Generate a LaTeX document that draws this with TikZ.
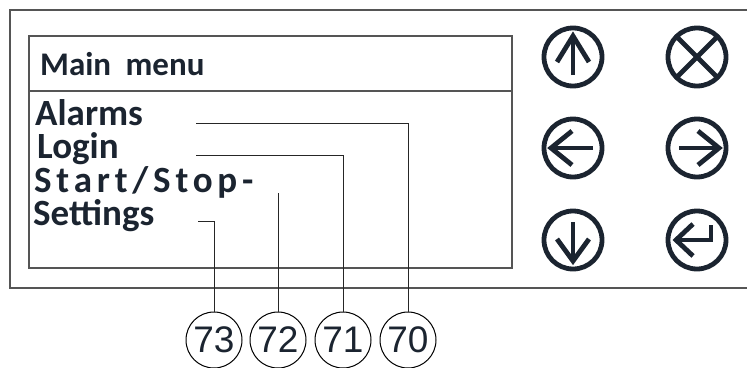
\documentclass[tikz,border=0pt]{standalone}
\usepackage{fontspec}
\setmainfont{Carlito}
\newfontfamily\numfont{Liberation Sans}
\definecolor{ink}{HTML}{1B2430}
\definecolor{framegray}{HTML}{555555}

\tikzset{
  menutext/.style={anchor=base west, inner sep=0pt, text=ink,
    text height=25pt, text depth=2pt,
    font=\fontsize{37}{37}\selectfont\bfseries},
  refnum/.style={circle, draw=black, line width=1pt, minimum size=56pt,
    inner sep=0pt, text=ink, font=\numfont\fontsize{37}{37}\selectfont},
  leader/.style={line width=1pt, draw=black!85},
  keyring/.style={circle, draw=ink, line width=4.8pt, minimum size=58pt, inner sep=0pt},
  keymark/.style={draw=ink, line width=4.8pt},
  panel/.style={draw=framegray, line width=2pt},
}

\begin{document}
\begin{tikzpicture}[x=1pt,y=-1pt]
  \useasboundingbox (0,0) rectangle (747,367);

  % Housing and display
  \draw[panel] (747,10) -- (10,10) -- (10,288) -- (747,288);
  \draw[panel] (29,36) rectangle (512,268);
  \draw[panel] (29,91) -- (512,91); % title bar

  % Display texts
  \node[menutext, font=\fontsize{33}{33}\selectfont\bfseries] (title) at (40,75) {Main\hspace{7pt} menu};
  \node[menutext] (alarms) at (35,125) {Alarms};
  \node[menutext] (login) at (37,158) {Login};
  \node[menutext] (start) at (34,192) {\addfontfeatures{LetterSpace=13}Start/Stop-};
  \node[menutext] (settings) at (33,225) {Settings};

  % Reference numbers
  \node[refnum] (n73) at (214,340) {73};
  \node[refnum] (n72) at (278,340) {72};
  \node[refnum] (n71) at (343,340) {71};
  \node[refnum] (n70) at (408,340) {70};

  % Leader lines
  \coordinate (a70) at (196,123);
  \coordinate (a71) at (196,155);
  \coordinate (a72) at (278,193);
  \coordinate (a73) at (198,221);
  \draw[leader] (a70) -| (n70);
  \draw[leader] (a71) -| (n71);
  \draw[leader] (a72) -- (n72);
  \draw[leader] (a73) -| (n73);

  % Keys
  \node[keyring] (up) at (573,57) {};
  \node[keyring] (esc) at (697,57) {};
  \node[keyring] (left) at (573,148) {};
  \node[keyring] (right) at (697,148) {};
  \node[keyring] (down) at (573,240) {};
  \node[keyring] (enter) at (697,240) {};

  \begin{scope}[shift={(up.center)}]
    \draw[keymark] (0,18) -- (0,-21);
    \draw[keymark] (-16,5) -- (0,-21) -- (16,5);
  \end{scope}
  \begin{scope}[shift={(esc.center)}]
    \draw[keymark] (-20,-20) -- (20,20);
    \draw[keymark] (-20,20) -- (20,-20);
  \end{scope}
  \begin{scope}[shift={(left.center)}]
    \draw[keymark] (20,0) -- (-22,0);
    \draw[keymark] (-1,-17) -- (-22,0) -- (-1,17);
  \end{scope}
  \begin{scope}[shift={(right.center)}]
    \draw[keymark] (-18,0) -- (22,0);
    \draw[keymark] (1,-17) -- (22,0) -- (1,17);
  \end{scope}
  \begin{scope}[shift={(down.center)}]
    \draw[keymark] (0,-18) -- (0,21);
    \draw[keymark] (-16,-1) -- (0,21) -- (16,-1);
  \end{scope}
  \begin{scope}[shift={(enter.center)}]
    \draw[keymark] (-21,0) -- (14,0) -- (14,-15);
    \draw[keymark] (-4,-16) -- (-21,0) -- (-4,16);
  \end{scope}
\end{tikzpicture}
\end{document}
